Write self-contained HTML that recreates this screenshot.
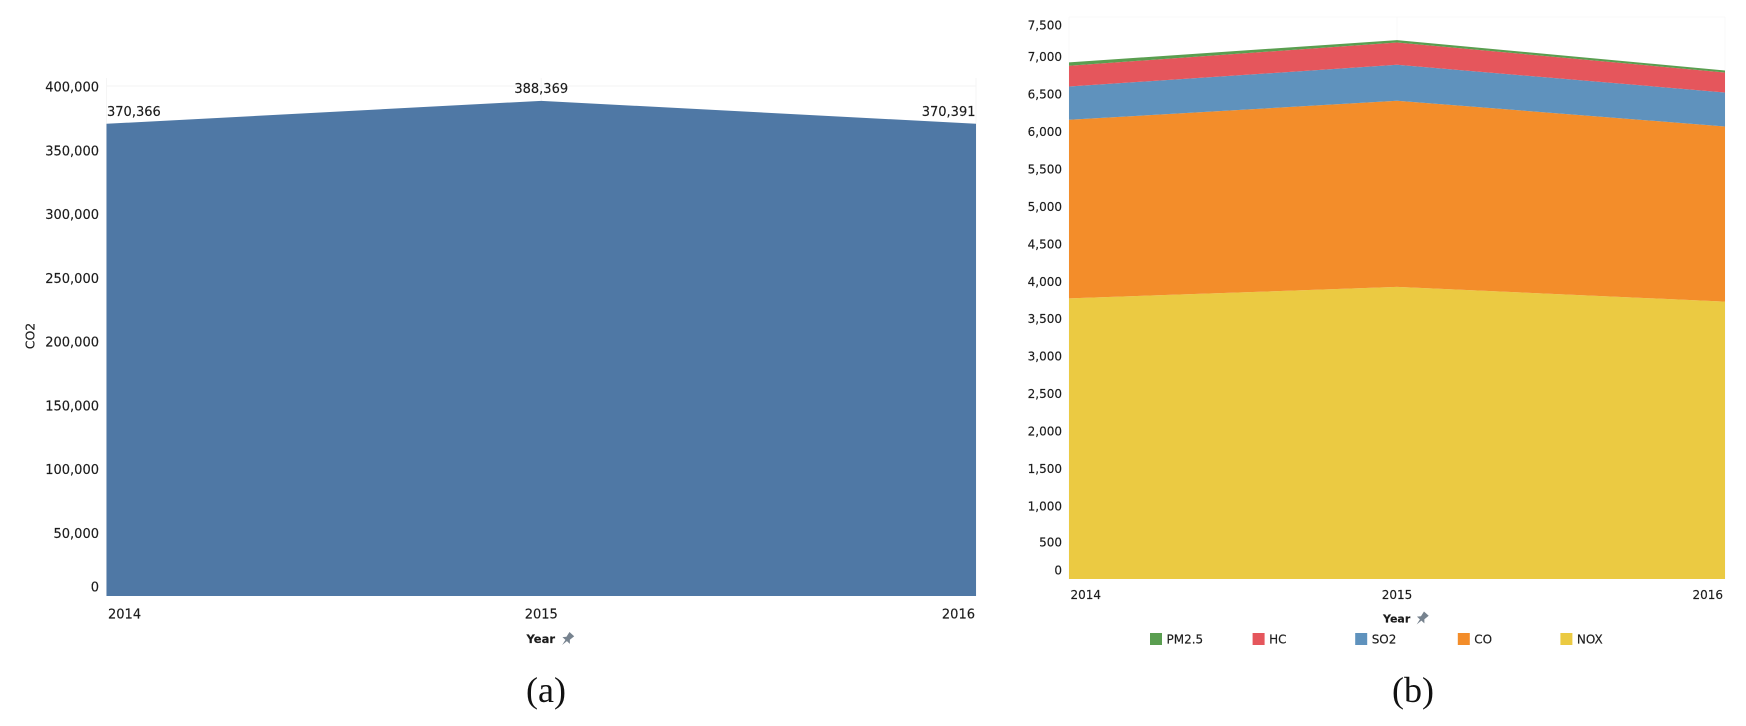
<!DOCTYPE html>
<html>
<head>
<meta charset="utf-8">
<title>CO2 and pollutant area charts</title>
<style>
html,body{margin:0;padding:0;background:#fff;width:1746px;height:726px;overflow:hidden}
svg{display:block}
text{font-family:"DejaVu Sans","Liberation Sans",sans-serif;fill:#1c1c1c}
</style>
</head>
<body>
<svg id="figure" width="1746" height="726" viewBox="0 0 1746 726" xmlns="http://www.w3.org/2000/svg">
  <g id="chart-a"></g>
  <g id="chart-b"></g>
  <text x="546" y="702" text-anchor="middle" style="font-family:'Liberation Serif',serif;font-size:36px;fill:#111">(a)</text>
  <text x="1413" y="702" text-anchor="middle" style="font-family:'Liberation Serif',serif;font-size:36px;fill:#111">(b)</text>
</svg>
<script>
const years = ['2014', '2015', '2016'];
const co2Values = [370366, 388369, 370391];
const co2Ticks = [0, 50000, 100000, 150000, 200000, 250000, 300000, 350000, 400000];
const noxValues = [3745, 3898, 3702];
const coValues = [2383, 2484, 2337];
const so2Values = [445, 480, 454];
const hcValues = [277, 298, 267];
const pm25Values = [44, 32, 26];
const pollutantTicks = [0, 500, 1000, 1500, 2000, 2500, 3000, 3500, 4000, 4500, 5000, 5500, 6000, 6500, 7000, 7500];
const stackNames = ['NOX', 'CO', 'SO2', 'HC', 'PM2.5'];
const legendOrder = ['PM2.5', 'HC', 'SO2', 'CO', 'NOX'];
const stackColors = {'NOX': '#ebca42', 'CO': '#f38d2a', 'SO2': '#5f92bd', 'HC': '#e5565c', 'PM2.5': '#5a9e50'};

const NS = 'http://www.w3.org/2000/svg';
const fmt = function (v) { return v.toLocaleString('en-US'); };

function mk(parent, tag, attrs, txt) {
  const el = document.createElementNS(NS, tag);
  for (const k in attrs) el.setAttribute(k, attrs[k]);
  if (txt !== undefined) {
    el.textContent = txt;
    el.setAttribute('stroke', '#1c1c1c');
    el.setAttribute('stroke-width', '0.15');
  }
  parent.appendChild(el);
  return el;
}

function pin(parent, x, y) {
  const el = mk(parent, 'path', {
    d: 'M-3.2 -6.5 L3.2 -6.5 L2.3 -1 L5 2 L1 2 L0 8 L-1 2 L-5 2 L-2.3 -1 Z',
    fill: '#77838f',
    transform: 'translate(' + x + ' ' + y + ') rotate(42)'
  });
  
  
}

/* ---------- chart (a) ---------- */
(function () {
  const g = document.getElementById('chart-a');
  const x0 = 106.5, x1 = 976, yBase = 596, yFrameTop = 78;
  const xs = function (i) { return x0 + (x1 - x0) * i / (years.length - 1); };
  const ys = function (v) { return yBase - v / 400000 * 510; };
  const labelY = function (v) { return Math.max(Math.min(ys(v) + 2, yBase - 8), yFrameTop + 8); };

  const grid = mk(g, 'line', {x1: x0, x2: x1, y1: ys(400000), y2: ys(400000), stroke: '#f3f3f3', 'stroke-width': 1});
  
  

  years.forEach(function (yr, i) {
    const v = mk(g, 'line', {x1: xs(i), x2: xs(i), y1: yFrameTop, y2: yBase, stroke: '#f5f5f5', 'stroke-width': 1});
    
    
  });

  let d = 'M' + xs(0) + ' ' + yBase;
  co2Values.forEach(function (v, i) { d += ' L' + xs(i) + ' ' + ys(v); });
  d += ' L' + xs(years.length - 1) + ' ' + yBase + ' Z';
  const area = mk(g, 'path', {d: d, fill: '#4f78a5'});
  
  

  co2Ticks.forEach(function (t) {
    const el = mk(g, 'text', {x: 99, y: labelY(t), 'text-anchor': 'end', 'dominant-baseline': 'central', 'font-size': 13}, fmt(t));
    
    
  });

  const anchors = ['start', 'middle', 'end'];
  const tickOffsets = [1.5, 0, -1];
  const valueOffsets = [0.5, 0, -0.5];
  years.forEach(function (yr, i) {
    const el = mk(g, 'text', {x: xs(i) + tickOffsets[i], y: 615, 'text-anchor': anchors[i], 'dominant-baseline': 'central', 'font-size': 13}, yr);
    
    
    const lab = mk(g, 'text', {x: xs(i) + valueOffsets[i], y: ys(co2Values[i]) - 11.5, 'text-anchor': anchors[i], 'dominant-baseline': 'central', 'font-size': 13}, fmt(co2Values[i]));
    
    
  });

  const yt = mk(g, 'text', {x: 0, y: 0, transform: 'translate(30 336) rotate(-90)', 'text-anchor': 'middle', 'dominant-baseline': 'central', 'font-size': 12.5}, 'CO2');
  
  

  const xt = mk(g, 'text', {x: 526.5, y: 639, 'dominant-baseline': 'central', 'font-size': 11.5, 'font-weight': 'bold'}, 'Year');
  
  
  pin(g, 567.5, 639);
})();

/* ---------- chart (b) ---------- */
(function () {
  const g = document.getElementById('chart-b');
  const x0 = 1069, x1 = 1725, yBase = 579, yTop = 17;
  const xs = function (i) { return x0 + (x1 - x0) * i / (years.length - 1); };
  const ys = function (v) { return yBase - v / 7500 * (yBase - yTop); };
  const labelY = function (v) { return Math.max(Math.min(ys(v) + 2.5 - (v < 1000 ? 1.5 : 0), yBase - 8.5), yTop + 8.5); };
  const seriesByName = {'NOX': noxValues, 'CO': coValues, 'SO2': so2Values, 'HC': hcValues, 'PM2.5': pm25Values};

  const grid = mk(g, 'line', {x1: x0, x2: x1, y1: yTop, y2: yTop, stroke: '#f8f8f8', 'stroke-width': 1});
  
  

  years.forEach(function (yr, i) {
    const v = mk(g, 'line', {x1: xs(i), x2: xs(i), y1: yTop, y2: yBase, stroke: '#f8f8f8', 'stroke-width': 1});
    
    
  });

  const running = years.map(function () { return 0; });
  stackNames.forEach(function (name) {
    const vals = seriesByName[name];
    const lower = running.slice();
    vals.forEach(function (v, i) { running[i] += v; });
    let d = '';
    running.forEach(function (v, i) { d += (i ? ' L' : 'M') + xs(i) + ' ' + ys(v); });
    for (let i = years.length - 1; i >= 0; i--) d += ' L' + xs(i) + ' ' + ys(lower[i]);
    d += ' Z';
    const area = mk(g, 'path', {d: d, fill: stackColors[name]});
    
    
  });

  pollutantTicks.forEach(function (t) {
    const el = mk(g, 'text', {x: 1062, y: labelY(t), 'text-anchor': 'end', 'dominant-baseline': 'central', 'font-size': 12}, fmt(t));
    
    
  });

  const anchors = ['start', 'middle', 'end'];
  const tickOffsets = [1.5, 0, -2];
  years.forEach(function (yr, i) {
    const el = mk(g, 'text', {x: xs(i) + tickOffsets[i], y: 595, 'text-anchor': anchors[i], 'dominant-baseline': 'central', 'font-size': 12}, yr);
    
    
  });

  const xt = mk(g, 'text', {x: 1383, y: 619, 'dominant-baseline': 'central', 'font-size': 11, 'font-weight': 'bold'}, 'Year');
  
  
  pin(g, 1422, 618.5);

  legendOrder.forEach(function (name, i) {
    const lx = 1150 + i * 102.6;
    const sw = mk(g, 'rect', {x: lx, y: 633, width: 12, height: 12, fill: stackColors[name]});
    
    
    const lb = mk(g, 'text', {x: lx + 16.5, y: 639.5, 'dominant-baseline': 'central', 'font-size': 12}, name);
    
    
  });
})();
</script>
</body>
</html>
